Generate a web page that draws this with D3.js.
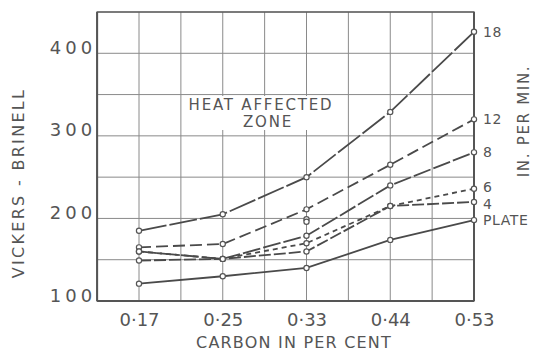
<!DOCTYPE html>
<html>
<head>
<meta charset="utf-8">
<script src="https://cdn.jsdelivr.net/npm/d3@7/dist/d3.min.js"></script>
<style>
  body { margin: 0; background: #fff; }
  svg text { font-family: "DejaVu Sans", sans-serif; fill: #555; }
</style>
</head>
<body>
<div id="chart"></div>
<script>
// valores (dureza Vickers-Brinell)
const carbon = ["0·17", "0·25", "0·33", "0·44", "0·53"];
const yTicks = [100, 200, 300, 400];
const speedLabels = ["18", "12", "8", "6", "4", "PLATE"];
const speed18 = [185, 205, 250, 329, 426];
const speed12 = [165, 169, 211, 265, 320];
const speed8 = [160, 151, 179, 240, 280];
const speed6 = [160, 151, 170, 215, 236];
const speed4 = [149, 151, 160, 215, 220];
const plate = [121, 130, 140, 174, 198];
// pontos soltos em 0·33
const extraCarbon = ["0·33", "0·33"];
const extraValues = [199, 196];

const seriesValues = [speed18, speed12, speed8, speed6, speed4, plate];
const dashMap = {
    "18": "28,3",
    "12": "12,5",
    "8": "18,3",
    "6": "5,4",
    "4": "12,3",
    "PLATE": null
};
// pequeno ajuste vertical dos rótulos que ficam muito juntos
const labelNudge = { "6": -2, "4": 2 };

const W = 535, H = 352;
const svg = d3.select("#chart").append("svg")
    .attr("width", W)
    .attr("height", H);

const x = d3.scalePoint()
    .domain(carbon)
    .range([139, 474]);
const half = x.step() / 2;
const left = x(carbon[0]) - half;
const right = x(carbon[carbon.length - 1]);

const y = d3.scaleLinear()
    .domain([100, 450])
    .range([301, 12]);

// grade
const gridX = carbon.flatMap(c => [x(c) - half, x(c)]);
const gridY = d3.range(100, 451, 50);

svg.append("g").selectAll("line")
    .data(gridX)
    .enter().append("line")
    .attr("x1", d => d).attr("x2", d => d)
    .attr("y1", y(450)).attr("y2", y(100))
    .attr("stroke", "#8a8a8a")
    .attr("stroke-width", 1);

svg.append("g").selectAll("line")
    .data(gridY)
    .enter().append("line")
    .attr("x1", left).attr("x2", right)
    .attr("y1", d => y(d)).attr("y2", d => y(d))
    .attr("stroke", "#8a8a8a")
    .attr("stroke-width", 1);

// moldura
svg.append("rect")
    .attr("x", left).attr("y", y(450))
    .attr("width", right - left).attr("height", y(100) - y(450))
    .attr("fill", "none")
    .attr("stroke", "#555")
    .attr("stroke-width", 1.3);
[left, right].forEach(xx => {
    svg.append("line")
        .attr("x1", xx).attr("x2", xx)
        .attr("y1", y(450)).attr("y2", y(100))
        .attr("stroke", "#555").attr("stroke-width", 2);
});
svg.append("line")
    .attr("x1", left).attr("x2", right)
    .attr("y1", y(100)).attr("y2", y(100))
    .attr("stroke", "#555").attr("stroke-width", 2);

// texto "HEAT AFFECTED ZONE" com fundo branco
svg.append("rect")
    .attr("x", 184).attr("y", 96)
    .attr("width", 156).attr("height", 34)
    .attr("fill", "#fff");
svg.append("text")
    .attr("x", 261).attr("y", 105)
    .attr("dy", "0.35em")
    .attr("text-anchor", "middle")
    .style("font-size", "15px")
    .style("letter-spacing", "1.8px")
    .text("HEAT AFFECTED");
svg.append("text")
    .attr("x", 268).attr("y", 122)
    .attr("dy", "0.35em")
    .attr("text-anchor", "middle")
    .style("font-size", "15px")
    .style("letter-spacing", "1.8px")
    .text("ZONE");

// linhas
const line = d3.line()
    .x((_, i) => x(carbon[i]))
    .y(v => y(v));

seriesValues.forEach((vals, k) => {
    const label = speedLabels[k];
    svg.append("path")
        .datum(vals)
        .attr("d", line)
        .attr("fill", "none")
        .attr("stroke", "#4a4a4a")
        .attr("stroke-width", 1.8)
        .attr("stroke-dasharray", dashMap[label]);
});

// pontos
const allPoints = seriesValues.flatMap(vals => vals.map((v, i) => [carbon[i], v]))
    .concat(extraValues.map((v, i) => [extraCarbon[i], v]));

svg.append("g").selectAll("circle")
    .data(allPoints)
    .enter().append("circle")
    .attr("cx", d => x(d[0]))
    .attr("cy", d => y(d[1]))
    .attr("r", 2.6)
    .attr("fill", "#fff")
    .attr("stroke", "#555")
    .attr("stroke-width", 1.2);

// rótulos das séries
seriesValues.forEach((vals, k) => {
    const label = speedLabels[k];
    svg.append("text")
        .attr("x", right + 9)
        .attr("y", y(vals[vals.length - 1]) + (labelNudge[label] || 0))
        .attr("dy", "0.35em")
        .style("font-size", "14px")
        .style("letter-spacing", "0.6px")
        .text(label);
});

// eixos
const yAxis = svg.append("g")
    .attr("transform", `translate(${left},0)`)
    .call(d3.axisLeft(y).tickValues(yTicks).tickSize(0).tickPadding(1));
yAxis.select(".domain").remove();
yAxis.selectAll("text")
    .attr("dy", "0.0em")
    .style("font-size", "18px")
    .style("letter-spacing", "4px")
    .style("font-family", "DejaVu Sans")
    .attr("fill", "#555");

const xAxis = svg.append("g")
    .attr("transform", `translate(0,${y(100)})`)
    .call(d3.axisBottom(x).tickSize(0).tickPadding(12));
xAxis.select(".domain").remove();
xAxis.selectAll("text")
    .style("font-size", "18px")
    .style("font-family", "DejaVu Sans")
    .attr("fill", "#555");

// títulos
svg.append("text")
    .attr("x", 294).attr("y", 342)
    .attr("dy", "0.35em")
    .attr("text-anchor", "middle")
    .style("font-size", "16px")
    .style("letter-spacing", "1.2px")
    .text("CARBON IN PER CENT");

svg.append("text")
    .attr("transform", "translate(18,183) rotate(-90)")
    .attr("dy", "0.35em")
    .attr("text-anchor", "middle")
    .style("font-size", "16px")
    .style("letter-spacing", "2.3px")
    .text("VICKERS - BRINELL");

svg.append("text")
    .attr("transform", "translate(524,121) rotate(-90)")
    .attr("dy", "0.35em")
    .attr("text-anchor", "middle")
    .style("font-size", "15px")
    .style("letter-spacing", "1.7px")
    .text("IN. PER MIN.");
</script>
</body>
</html>
